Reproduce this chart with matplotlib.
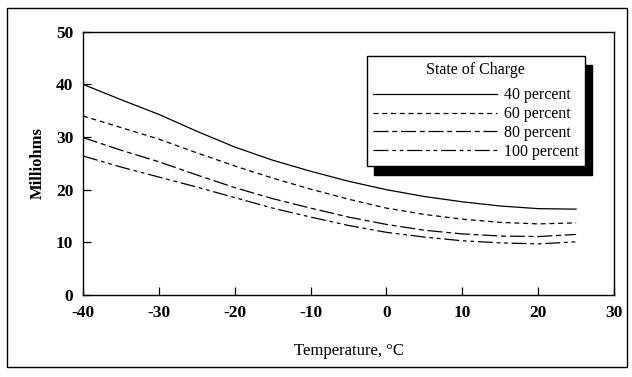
import matplotlib
matplotlib.use("Agg")
import matplotlib.pyplot as plt
from matplotlib.patches import Rectangle

temps = [-40, -35, -30, -25, -20, -15, -10, -5, 0, 5, 10, 15, 20, 25]
soc_40 = [40.0, 37.1, 34.3, 31.1, 28.1, 25.6, 23.5, 21.6, 20.0, 18.7, 17.7, 16.9, 16.4, 16.3]
soc_60 = [34.0, 31.8, 29.6, 27.0, 24.5, 22.2, 20.1, 18.2, 16.5, 15.3, 14.4, 13.8, 13.5, 13.7]
soc_80 = [29.9, 27.5, 25.3, 22.8, 20.4, 18.3, 16.5, 14.8, 13.4, 12.3, 11.6, 11.2, 11.1, 11.5]
soc_100 = [26.4, 24.3, 22.4, 20.5, 18.5, 16.5, 14.8, 13.2, 11.9, 11.0, 10.3, 9.9, 9.7, 10.1]
labels = ["40 percent", "60 percent", "80 percent", "100 percent"]
xticks = [-40, -30, -20, -10, 0, 10, 20, 30]
yticks = [0, 10, 20, 30, 40, 50]

plt.rcParams['font.family'] = ['Liberation Serif', 'DejaVu Serif']
FS = 11.5

W, H = 632, 377
fig = plt.figure(figsize=(W / 100, H / 100), dpi=100)
fig.patches.append(Rectangle((7 / W, 1 - 367 / H), 620 / W, 359 / H, transform=fig.transFigure,
                             fill=False, edgecolor='black', linewidth=1.0))
ax = fig.add_axes([83 / W, 1 - 295 / H, 531 / W, 263.3 / H])

styles = ['-', (0, (4, 3)), (0, (12, 3, 4, 3)), (0, (12, 3, 3, 3, 3, 3))]
for series, lab, ls in zip([soc_40, soc_60, soc_80, soc_100], labels, styles):
    ax.plot(temps, series, color='black', linewidth=0.9, linestyle=ls, label=lab)

ax.set_xlim(-40, 30)
ax.set_ylim(0, 50)
ax.set_xticks(xticks)
ax.set_yticks(yticks)
ax.set_xticklabels([str(t) for t in xticks], fontweight='bold')
ax.set_yticklabels([str(t) for t in yticks], fontweight='bold')
ax.tick_params(direction='in', length=6, width=0.9, labelsize=12.5, pad=7)
for s in ax.spines.values():
    s.set_linewidth(1.0)
ax.set_xlabel("Temperature, °C", fontsize=12, labelpad=16)
ax.set_ylabel("Milliohms", fontsize=12, labelpad=7, fontweight='bold')

leg = ax.legend(title="State of Charge", loc='upper left',
                bbox_to_anchor=(367 / W, 1 - 56 / H), bbox_transform=fig.transFigure,
                fontsize=FS, title_fontsize=FS, frameon=True, fancybox=False,
                shadow={'color': 'black', 'alpha': 1, 'ox': 5, 'oy': -6.5},
                handlelength=7.8, handletextpad=0.45, labelspacing=0.18,
                borderpad=0.35, borderaxespad=0)
leg._legend_box.sep = 7
leg.get_frame().set_edgecolor('black')
leg.get_frame().set_linewidth(1.0)
leg.get_frame().set_alpha(1)

fig.savefig("out.png", dpi=100)
